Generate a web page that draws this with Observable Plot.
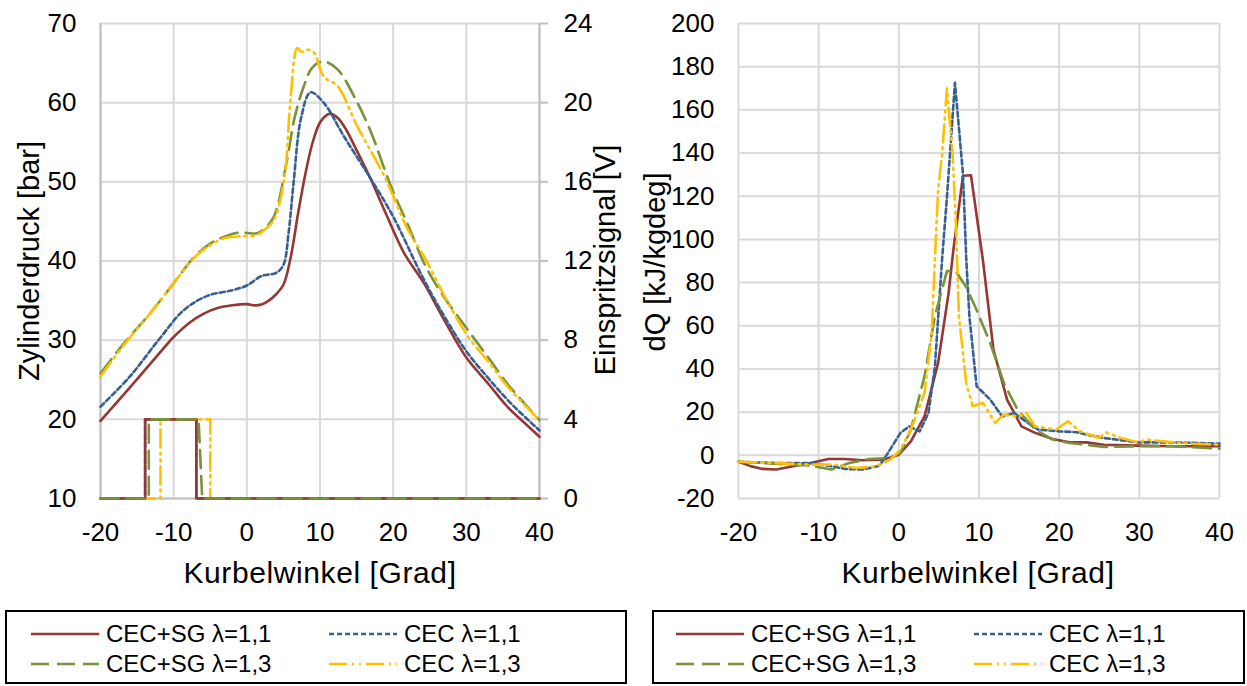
<!DOCTYPE html>
<html>
<head>
<meta charset="utf-8">
<script src="https://cdn.jsdelivr.net/npm/d3@7"></script>
<script src="https://cdn.jsdelivr.net/npm/@observablehq/plot@0.6"></script>
<style>
  body { margin: 0; background: #fff; font-family: "Liberation Sans", Arial, sans-serif; }
  #root { position: relative; width: 1247px; height: 686px; overflow: hidden; background: #fff; }
  #left, #right { position: absolute; top: 0; }
  #left { left: 0; }
  #right { left: 625px; }
  .title { position: absolute; white-space: nowrap; font-size: 29px; color: #000; transform: translate(-50%, -50%); line-height: 1; }
  .title.h { font-size: 30px; letter-spacing: 0.6px; }
  .rot { transform: translate(-50%, -50%) rotate(-90deg); }
  .legend { position: absolute; top: 610px; height: 70px; border: 2px solid #000; box-sizing: content-box; }
  .item { position: absolute; font-size: 24px; line-height: 1; white-space: nowrap; transform: translateY(-50%); }
  .sample { position: absolute; transform: translateY(-50%); }
</style>
</head>
<body>
<div id="root">
  <div id="left"></div>
  <div id="right"></div>
</div>
<script>
// ---------- DATA ----------
const seriesNames = ["CEC+SG λ=1,1", "CEC λ=1,1", "CEC+SG λ=1,3", "CEC λ=1,3"];
const seriesColors = ["#953735", "#376092", "#77933C", "#FFC000"];
const seriesDash = [null, "5,3", "18,8", "18,5,2,5,2,5"];

const xTicks = [-20, -10, 0, 10, 20, 30, 40];
const pTicks = [10, 20, 30, 40, 50, 60, 70];
const vTickLabels = [0, 4, 8, 12, 16, 20, 24];
const qTicks = [-20, 0, 20, 40, 60, 80, 100, 120, 140, 160, 180, 200];

// Zylinderdruck [bar]
const pRedX = [-20, -16, -12, -10, -7.7, -6, -4, -2, 0, 1, 2, 3, 4, 5, 6, 7, 8, 9, 10, 11, 11.5, 12.5, 13.5, 15, 17, 19, 21.5, 24.2, 27, 30, 33, 35.6, 38, 40];
const pRedY = [19.8, 24.0, 28.3, 30.4, 32.3, 33.3, 34.05, 34.4, 34.55, 34.4, 34.5, 35.0, 35.8, 37.0, 40.5, 46.0, 51.0, 55.0, 57.5, 58.5, 58.6, 58.0, 56.7, 54.0, 50.2, 46.0, 41.0, 37.2, 32.5, 27.8, 24.5, 21.6, 19.5, 17.8];

const pBlueX = [-20, -16, -12, -8.6, -5.4, -2, 0, 2, 4, 5, 5.7, 6.4, 7.4, 8.7, 10.5, 13.3, 17, 20, 24, 27, 30, 33, 36, 40];
const pBlueY = [21.6, 25.4, 30.1, 33.8, 35.6, 36.3, 36.9, 38.1, 38.5, 39.5, 43.5, 50.0, 58.0, 61.3, 60.0, 55.7, 50.3, 45.6, 38.0, 33.0, 28.6, 25.2, 22.1, 18.6];

const pGreenX = [-20, -16.8, -13.2, -10, -7.2, -5, -3, -1, 1.4, 2.5, 3.7, 5.5, 6.5, 7.8, 9, 10.5, 12.4, 15.1, 17, 19.7, 22, 24.5, 27, 30.2, 33, 35.6, 40];
const pGreenY = [25.8, 29.6, 33.4, 37.2, 40.5, 42.2, 43.1, 43.6, 43.5, 44.2, 45.6, 52.8, 58.0, 62.1, 64.5, 65.2, 64.2, 60.0, 56.2, 49.4, 44.6, 39.2, 35.4, 31.3, 27.8, 24.5, 19.9];

const pYellowX = [-20, -16.8, -13.2, -10, -7.2, -5, -3, -1.3, 1.4, 2.5, 3.7, 5.1, 6, 6.9, 7.5, 8.3, 9.2, 10.5, 12.4, 15.1, 18.8, 22, 24.2, 27, 30.2, 33, 35.6, 40];
const pYellowY = [25.4, 29.4, 33.4, 37.2, 40.4, 42.0, 42.9, 43.1, 43.3, 44.0, 45.2, 50.3, 60.8, 66.9, 66.4, 66.7, 66.3, 63.3, 62.1, 57.0, 50.7, 44.0, 40.6, 35.6, 30.5, 27.3, 24.2, 19.9];

// Einspritzsignal [V]
const vRedX = [-20, -13.9, -13.9, -6.9, -6.9, 40];
const vRedY = [0, 0, 4, 4, 0, 0];
const vBlueX = [-20, -13.9, -13.9, -6.9, -6.9, 40];
const vBlueY = [0, 0, 4, 4, 0, 0];
const vGreenX = [-20, -13.4, -13.4, -6.6, -6.1, 40];
const vGreenY = [0, 0, 4, 4, 0, 0];
const vYellowX = [-20, -11.8, -11.8, -5.0, -5.0, 40];
const vYellowY = [0, 0, 4, 4, 0, 0];

// dQ [kJ/kgdeg]
const qRedX = [-20, -18.5, -17, -15.3, -13.2, -11, -8.8, -6.7, -4.5, -1.9, 0, 1.5, 3.2, 4.9, 6.2, 6.8, 8, 9, 10.5, 11.8, 13.5, 15.3, 17, 19.2, 21.3, 23.4, 25.6, 29.9, 34.2, 40];
const qRedY = [-3, -5, -6.3, -6.6, -5.1, -3.6, -1.7, -1.7, -2.3, -2, 0.3, 6.5, 18, 42.8, 75, 95, 129.5, 129.7, 90, 49, 25.8, 13.4, 10.4, 7.6, 6.0, 6.0, 4.9, 4.5, 4.2, 4.2];

const qBlueX = [-20, -15.3, -11, -8.8, -6.7, -4.5, -2.4, -1.1, 0.2, 1.3, 2.6, 3.7, 4.5, 5.4, 6.0, 7.0, 8.0, 8.4, 8.8, 9.7, 11.4, 12.9, 14.4, 16.1, 17.4, 20, 22.2, 23.4, 25.6, 29.9, 34.2, 40];
const qBlueY = [-3, -3.6, -3.6, -4.8, -6.3, -6.6, -4.8, 2.6, 10.4, 13.4, 11.1, 19.6, 41.3, 91, 119.6, 172.5, 130.4, 91.8, 64.5, 32, 25.8, 18, 19.6, 15, 11.9, 11.1, 10.7, 9.6, 8.0, 6.0, 6.0, 5.4];

const qGreenX = [-20, -15, -11, -8.4, -6.2, -3.7, -1.1, 0.2, 1.5, 3.2, 4.5, 6.0, 7.1, 8.4, 9.7, 11.4, 13.1, 14.8, 17.0, 19.2, 21.3, 25.6, 29.9, 34.2, 40];
const qGreenY = [-3, -4, -4.8, -6.6, -3.6, -1.7, -1.2, 1.1, 11.9, 36.6, 64.5, 85.3, 85.3, 78, 67.3, 52, 33.5, 21.2, 11.9, 7.3, 5.7, 3.9, 4.2, 4.2, 3.1];

const qYellowX = [-20, -15.3, -11, -8, -5.4, -2.8, -1.1, 0.2, 1.5, 3.2, 4.1, 4.6, 4.9, 5.4, 6.0, 6.7, 7.1, 7.5, 8.4, 9.2, 10.5, 12.0, 13.1, 14.8, 15.9, 17, 19.6, 21.1, 22.6, 25, 25.8, 27.7, 29.9, 30.8, 34.2, 36.3, 40];
const qYellowY = [-3, -3.6, -4.3, -4.3, -5.9, -5.1, -2, 2.6, 11.9, 28.9, 56.7, 99.5, 122.7, 139.7, 170, 139.7, 108.8, 64.5, 33.5, 22.7, 24.3, 15, 18.9, 18, 19.6, 13.4, 11.9, 15.8, 11.1, 8, 10.7, 8, 6, 7.3, 6, 5.4, 4.9];

// ---------- helpers ----------
const zip = (xs, ys) => xs.map((x, i) => ({x, y: ys[i]}));
// injection voltage is drawn on the pressure scale: 0..24 V spans 10..70 bar
const vToP = v => 10 + v * 2.5;
const font = "'Liberation Sans', Arial, sans-serif";
const gridColor = "#d9d9d9";
const axisColor = "#bfbfbf";
const fmt = d => String(d); // plain hyphen-minus like the original

function lineMark(xs, ys, i, curve) {
  return Plot.line(zip(xs, ys), {
    x: "x", y: "y", stroke: seriesColors[i], strokeWidth: 2.6,
    strokeDasharray: seriesDash[i] || undefined, curve: curve || "linear"
  });
}

// ---------- left chart ----------
const pSets = [[pRedX, pRedY], [pBlueX, pBlueY], [pGreenX, pGreenY], [pYellowX, pYellowY]];
const vSets = [[vRedX, vRedY], [vBlueX, vBlueY], [vGreenX, vGreenY], [vYellowX, vYellowY]];

const leftPlot = Plot.plot({
  width: 625, height: 600,
  marginLeft: 100, marginRight: 86, marginTop: 23, marginBottom: 102,
  x: {domain: [-20, 40]},
  y: {domain: [10, 70]},
  style: {fontFamily: font, fontSize: "26px", color: "#000", background: "transparent", overflow: "visible"},
  marks: [
    Plot.gridX(xTicks, {stroke: gridColor, strokeOpacity: 1, strokeWidth: 2}),
    Plot.gridY(pTicks, {stroke: gridColor, strokeOpacity: 1, strokeWidth: 2}),
    Plot.ruleX([-20], {stroke: axisColor, strokeWidth: 2}),
    Plot.ruleX([40], {stroke: axisColor, strokeWidth: 2}),
    Plot.ruleY([10], {stroke: axisColor, strokeWidth: 2}),
    Plot.axisX(xTicks, {tickSize: 0, tickPadding: 24, label: null, fontSize: 26, fill: "#000", tickFormat: fmt}),
    Plot.axisY(pTicks, {anchor: "left", tickSize: 0, tickPadding: 24, label: null, fontSize: 26, fill: "#000", tickFormat: fmt}),
    Plot.axisY(pTicks, {anchor: "right", tickSize: 8, tickPadding: 16, label: null, fontSize: 26,
      stroke: axisColor, strokeWidth: 2, fill: "#000", tickFormat: (d, i) => String(vTickLabels[i])}),
    // injection signals (blue, yellow, red, green on top)
    ...[1, 3, 0, 2].map(i => lineMark(vSets[i][0], vSets[i][1].map(vToP), i)),
    // pressure curves
    ...[0, 1, 2, 3].map(i => lineMark(pSets[i][0], pSets[i][1], i, "catmull-rom"))
  ]
});
document.getElementById("left").append(leftPlot);

// ---------- right chart ----------
const qSets = [[qRedX, qRedY], [qBlueX, qBlueY], [qGreenX, qGreenY], [qYellowX, qYellowY]];
const rightPlot = Plot.plot({
  width: 622, height: 600,
  marginLeft: 113, marginRight: 28, marginTop: 23, marginBottom: 102,
  x: {domain: [-20, 40]},
  y: {domain: [-20, 200]},
  style: {fontFamily: font, fontSize: "26px", color: "#000", background: "transparent", overflow: "visible"},
  marks: [
    Plot.gridX(xTicks, {stroke: gridColor, strokeOpacity: 1, strokeWidth: 2}),
    Plot.gridY(qTicks, {stroke: gridColor, strokeOpacity: 1, strokeWidth: 2}),
    Plot.axisX(xTicks, {tickSize: 0, tickPadding: 24, label: null, fontSize: 26, fill: "#000", tickFormat: fmt}),
    Plot.axisY(qTicks, {anchor: "left", tickSize: 0, tickPadding: 24, label: null, fontSize: 26, fill: "#000", tickFormat: fmt}),
    ...[0, 1, 2, 3].map(i => lineMark(qSets[i][0], qSets[i][1], i))
  ]
});
document.getElementById("right").append(rightPlot);

// ---------- titles ----------
const root = document.getElementById("root");
function addTitle(text, cx, cy, rotated) {
  const d = document.createElement("div");
  d.className = "title" + (rotated ? " rot" : " h");
  d.textContent = text;
  d.style.left = cx + "px";
  d.style.top = cy + "px";
  root.append(d);
}
addTitle("Zylinderdruck [bar]", 29, 261, true);
addTitle("Einspritzsignal [V]", 605, 260, true);
addTitle("dQ [kJ/kgdeg]", 655, 262, true);
addTitle("Kurbelwinkel [Grad]", 320, 573, false);
addTitle("Kurbelwinkel [Grad]", 978, 573, false);

// ---------- legends ----------
function addLegend(left, width, col) {
  const box = document.createElement("div");
  box.className = "legend";
  box.style.left = left + "px";
  box.style.width = width + "px";
  const pos = [[col[0], 22], [col[1], 22], [col[0], 52], [col[1], 52]];
  seriesNames.forEach((name, i) => {
    const [cx, cy] = pos[i];
    const s = document.createElementNS("http://www.w3.org/2000/svg", "svg");
    s.setAttribute("class", "sample");
    s.setAttribute("width", 68);
    s.setAttribute("height", 6);
    s.style.left = cx + "px";
    s.style.top = cy + "px";
    const l = document.createElementNS("http://www.w3.org/2000/svg", "line");
    l.setAttribute("x1", 0); l.setAttribute("x2", 68);
    l.setAttribute("y1", 3); l.setAttribute("y2", 3);
    l.setAttribute("stroke", seriesColors[i]);
    l.setAttribute("stroke-width", 2.6);
    if (seriesDash[i]) l.setAttribute("stroke-dasharray", seriesDash[i]);
    s.append(l);
    box.append(s);
    const t = document.createElement("div");
    t.className = "item";
    t.textContent = name;
    t.style.left = (cx + 75) + "px";
    t.style.top = cy + "px";
    box.append(t);
  });
  root.append(box);
}
addLegend(5, 618, [24, 322]);
addLegend(652, 589, [22, 320]);
</script>
</body>
</html>
